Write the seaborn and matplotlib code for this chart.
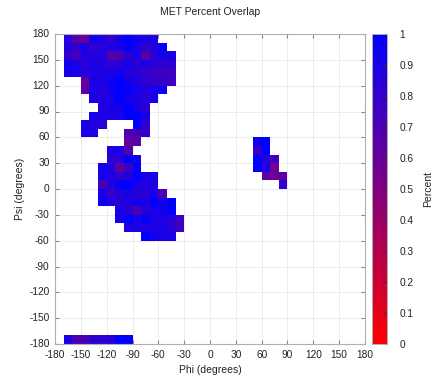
import numpy as np
import seaborn as sns
import matplotlib
matplotlib.use('Agg')
import matplotlib.pyplot as plt
from matplotlib.colors import LinearSegmentedColormap

# Each run is a horizontal strip of 10-degree bins:
# run_psi = lower psi edge of the row, run_phi = lower phi edge of the first bin
run_psi = [170, 160, 150, 140, 130, 120, 110, 100, 90, 80,
           70, 70, 60, 60, 50, 50, 40, 40, 30, 30,
           20, 20, 10, 10, 0, 0, -10, -20, -30, -40,
           -50, -60, -180]
run_phi = [-170, -170, -170, -170, -170, -150, -150, -140, -130, -140,
           -150, -90, -150, -100, -100, 50, -120, 50, -120, 50,
           -130, 50, -130, 60, -130, 80, -130, -130, -110, -110,
           -100, -80, -170]
run_vals = [
    [0.86, 0.66, 0.6, 0.92, 0.9, 0.82, 0.92, 1.0, 0.93, 0.9, 0.9],
    [0.84, 0.8, 0.9, 0.8, 0.84, 0.88, 0.9, 1.0, 0.92, 0.82, 0.84, 1.0],
    [0.82, 0.74, 0.88, 0.88, 0.88, 0.66, 0.7, 0.84, 0.9, 0.66, 0.84, 0.9, 0.9],
    [0.92, 0.9, 0.84, 0.88, 0.88, 0.82, 0.84, 0.9, 0.84, 0.9, 0.84, 0.82, 0.84],
    [0.92, 0.9, 0.84, 0.9, 0.88, 0.9, 0.92, 0.88, 0.84, 0.8, 0.76, 0.76, 0.76],
    [0.6, 0.9, 0.9, 0.93, 1.0, 0.92, 0.9, 0.82, 0.8, 0.8, 0.76],
    [0.64, 0.9, 0.84, 0.93, 1.0, 1.0, 0.9, 0.88, 0.9, 0.95],
    [0.9, 0.88, 0.9, 1.0, 0.92, 0.9, 0.84, 0.9],
    [0.86, 0.9, 0.92, 1.0, 0.9, 0.84],
    [0.9, 0.9, 0.88, 0.9, 1.0, 1.0, 0.9],
    [0.9, 0.88, 0.84],
    [1.0, 0.82],
    [0.9, 0.9],
    [0.7, 0.72, 0.8],
    [0.6, 0.66],
    [0.95, 1.0],
    [0.9, 0.9, 0.66],
    [0.8, 1.0],
    [0.82, 0.84, 1.0, 0.92],
    [1.0, 0.86, 0.76],
    [0.92, 0.88, 0.62, 0.78, 1.0],
    [1.0, 0.88, 0.56],
    [0.9, 0.9, 0.82, 0.88, 1.0, 0.9, 0.9],
    [0.63, 0.6, 0.63],
    [0.72, 0.84, 1.0, 1.0, 0.9, 0.88, 0.88],
    [0.82],
    [0.92, 0.8, 0.84, 0.9, 0.84, 0.84, 0.92, 0.7],
    [0.95, 0.88, 0.84, 0.88, 0.92, 0.9, 1.0, 0.92, 1.0],
    [0.9, 0.84, 0.7, 0.84, 0.9, 0.92, 1.0],
    [0.92, 1.0, 0.9, 1.0, 0.9, 0.9, 0.84, 0.76],
    [0.88, 0.9, 0.88, 0.9, 0.9, 0.84, 0.76],
    [1.0, 0.92, 0.9, 0.9],
    [0.9, 0.7, 0.7, 0.82, 0.82, 0.86, 1.0, 1.0],
]

tick_deg = list(range(-180, 181, 30))

# build the 36x36 grid (row 0 = psi 170..180 at the top)
grid = np.full((36, 36), np.nan)
for psi, phi, vals in zip(run_psi, run_phi, run_vals):
    r = (170 - psi) // 10
    c = (phi + 180) // 10
    grid[r, c:c + len(vals)] = vals

plt.rcParams['font.family'] = ['Liberation Sans', 'DejaVu Sans']
cmap = LinearSegmentedColormap.from_list('red_blue', ['#ff0000', '#0000ff'])

fig = plt.figure(figsize=(4.39, 3.87), dpi=100)
ax = fig.add_axes([55 / 439, 43 / 387, 310 / 439, 310 / 387])
cax = fig.add_axes([372 / 439, 43 / 387, 15 / 439, 310 / 387])

sns.heatmap(grid, ax=ax, cbar_ax=cax, cmap=cmap, vmin=0, vmax=1,
            cbar_kws={'ticks': np.arange(0, 1.01, 0.1)})

# axis ticks in degrees
pos = [(d + 180) / 10 for d in tick_deg]
ax.set_xticks(pos)
ax.set_xticklabels([str(d) for d in tick_deg], rotation=0)
ax.set_yticks(pos)
ax.set_yticklabels([str(-d) for d in tick_deg], rotation=0)
ax.set_axisbelow(True)
ax.grid(True, color='#ececec', linewidth=0.7)
for s in ax.spines.values():
    s.set_visible(True)
    s.set_color('#b0b0b0')
    s.set_linewidth(0.8)
ax.tick_params(direction='in', length=3, color='#888888', labelsize=7.3,
               top=True, right=True, pad=4, labelcolor='#222222')

ax.set_xlabel('Phi (degrees)', fontsize=7.5, color='#222222', labelpad=4)
ax.set_ylabel('Psi (degrees)', fontsize=7.5, color='#222222', labelpad=3)
ax.set_title('MET Percent Overlap', fontsize=7.5, color='#222222', pad=14)

cax.set_yticklabels(['0', '0.1', '0.2', '0.3', '0.4', '0.5', '0.6', '0.7', '0.8', '0.9', '1'])
cax.tick_params(labelsize=7.3, length=3, direction='in', color='#333333', pad=9,
                labelcolor='#222222')
cax.set_ylabel('Percent', fontsize=7.5, color='#222222', labelpad=7)
for s in cax.spines.values():
    s.set_visible(True)
    s.set_color('#b0b0b0')
    s.set_linewidth(0.6)

fig.savefig('out.png', dpi=100)
